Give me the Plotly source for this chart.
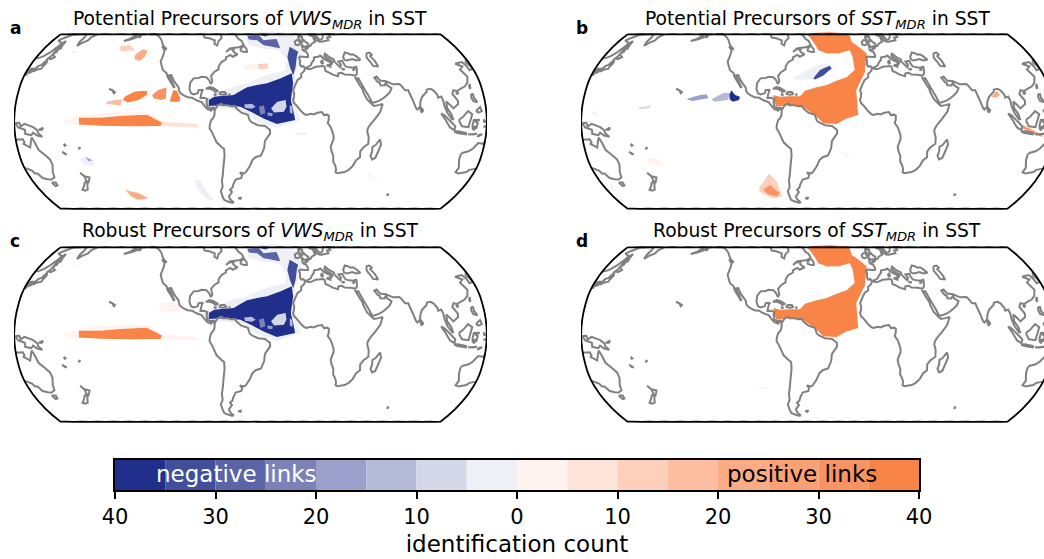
import plotly.graph_objects as go

W, H = 1060, 559
FONT = "DejaVu Sans"

# colour bar values
COUNT_EDGES = [-40, -35, -30, -25, -20, -15, -10, -5, 0, 5, 10, 15, 20, 25, 30, 35, 40]
TICK_VALUES = [-40, -30, -20, -10, 0, 10, 20, 30, 40]
TICK_LABELS = ["40", "30", "20", "10", "0", "10", "20", "30", "40"]
NEG_COLORS = ["#eff0f6", "#d3d7e8", "#b6bad9", "#9aa0c9", "#7a82b8", "#5a64a7", "#404e9c", "#1f2f8b"]
POS_COLORS = ["#fef3ee", "#fee4d8", "#fdd0bc", "#fcbda0", "#fbac84", "#fba074", "#fa9362", "#f98448"]

TITLES = ["Potential Precursors of <i>VWS</i><sub><i>MDR</i></sub> in SST",
          "Potential Precursors of <i>SST</i><sub><i>MDR</i></sub> in SST",
          "Robust Precursors of <i>VWS</i><sub><i>MDR</i></sub> in SST",
          "Robust Precursors of <i>SST</i><sub><i>MDR</i></sub> in SST"]
LETTERS = ["a", "b", "c", "d"]

# map outline
FRAME_WEST, FRAME_EAST = -229.9, 129.9
FRAME_NORTH, FRAME_SOUTH = 59.3, -59.3
FRAME_LON_STEPS = [-225, -210, -195, -180, -165, -150, -135, -120, -105, -90, -75, -60, -45, -30, -15, 0, 15, 30, 45, 60, 75, 90, 105, 120]
FRAME_LAT_STEPS = [50, 40, 30, 20, 10, 0, -10, -20, -30, -40, -50]

# coastlines, as (lon, lat)
AMERICAS_PACIFIC = [(-146,60),(-140,60),(-137,58.5),(-134,57),(-131,55),(-130,54),(-128,52),(-125,49.8),(-123,49),(-124.5,48.4),(-124,46),(-124,43),(-124.3,40.3),(-122.5,37.5),(-120.5,34.5),(-117.2,32.6),(-115.8,30),(-114.2,28.2),(-112,25.8),(-109.9,23),(-109.4,23.2),(-110.4,24.5),(-111.5,26.5),(-113,28.5),(-114.7,31),(-113,31.2),(-111.2,28.5),(-109.5,26.5),(-108,25),(-106,23),(-105.3,20.5),(-104,19),(-101.5,17.6),(-98.5,16.3),(-95,16),(-92.5,14.7),(-90,13.8),(-87.5,13),(-85.7,11),(-84.5,9.8),(-83,8.3),(-81,7.7),(-80,7.3),(-79.5,8.8),(-78,8),(-77.3,7.5),(-77.5,4),(-78.6,2),(-80,0.8),(-80.9,-2),(-81.2,-4.5),(-79.5,-7),(-78,-10),(-76,-14),(-72.5,-17),(-70.4,-18.5),(-70.2,-23),(-71.4,-30),(-72.5,-36),(-73.6,-40),(-73.5,-44),(-75.5,-47),(-74.5,-51),(-73.5,-53),(-71,-54),(-67,-55),(-65.2,-54.8),(-68.2,-52.5),(-69,-50.5),(-66,-47.5),(-67.5,-46),(-65.3,-44.5),(-64.5,-42.5),(-62.2,-39),(-57.5,-38),(-56.8,-36),(-58.5,-34.2),(-55,-34.9),(-53.4,-33.7),(-50.5,-30),(-48.5,-26),(-46,-24),(-41.8,-22.8),(-39.5,-18),(-38.9,-13),(-35,-8),(-35.2,-5.5),(-39,-3),(-44.2,-2.5),(-48.5,-0.8),(-50.5,0.5),(-52,4.5),(-57,6),(-60.5,8.5),(-62,10.5),(-65,10.2),(-68,11),(-71.5,11),(-72,12),(-75,11),(-76.8,8.5),(-78.4,9.4),(-80.5,9),(-83,10),(-83.7,13),(-83.2,15),(-85.8,15.9),(-88.5,15.8),(-88.2,18),(-87.5,20.5),(-86.8,21.4),(-90.3,21),(-90.8,19),(-94,18.2),(-96,19),(-97.5,22),(-97.3,26),(-95,29),(-91,29.3),(-89,30),(-85,29.7),(-82.8,28),(-81,25.2),(-80,26.8),(-81.3,30.7),(-79,33.3),(-75.7,35.2),(-76,37),(-74,40),(-70.5,41.7),(-70.7,43.2),(-67,44.8),(-65,43.6),(-61,45.3),(-63,46),(-65,47.5),(-64.5,49),(-68.5,48.5),(-71,46.8),(-68,49.3),(-60,50.1),(-56,51.7),(-58,54.5),(-61,56),(-64.5,60)]
ALASKA_PENINSULA = [(-149,60),(-151.5,59.3),(-153.5,58.5),(-156,57),(-160,55.5),(-165,54.5),(-161,56),(-158,58),(-157,58.8),(-159,59),(-162,60)]
HUDSON_BAY = [(-94.5,60),(-92.5,57),(-88,56.5),(-82.5,55),(-82.2,52.5),(-79.5,51.3),(-79,54.5),(-76.7,56.5),(-78,59),(-77.5,60)]
NEWFOUNDLAND = [(-59,47.8),(-55.5,46.9),(-53,47),(-53.5,49),(-56,51.3),(-58,49.5),(-59,47.8)]
VANCOUVER = [(-128,50.8),(-125,50),(-123.5,48.5),(-125.5,48.8),(-128,50.8)]
KODIAK = [(-154,57),(-152.5,58),(-152.5,57.3),(-154,57)]
CUBA = [(-84.8,22),(-82,23.2),(-79,22.6),(-75,20.5),(-77.5,19.9),(-78.5,21),(-81.8,22.2),(-84.8,22)]
HISPANIOLA = [(-74.4,18.5),(-73,19.9),(-70,19.8),(-68.5,18.5),(-71,18),(-74.4,18.5)]
JAMAICA = [(-78.3,18.4),(-76.3,18.1),(-77.2,17.8),(-78.3,18.4)]
PUERTO_RICO = [(-67,18.4),(-65.7,18.3),(-66.5,17.9),(-67,18.4)]
HAWAII = [(-160,22),(-157,21),(-155,19.8),(-155.7,19),(-157,20.7),(-160,22)]
FALKLANDS = [(-61,-51.8),(-58,-51.4),(-59,-52.3),(-61,-51.8)]
KERGUELEN = [(68.8,-49.3),(70.5,-49),(70,-49.7),(68.8,-49.3)]
EUROPE_AFRICA_ASIA = [(5,60),(5.5,58.7),(7.5,58),(10.7,59.7),(11,58.8),(12.5,56.3),(13,55.4),(14.5,55.6),(16.5,56.5),(18.5,59.5),(18,60)]
BALTIC_SOUTH = [(10.6,57.7),(10,56),(10.5,55),(12,54.2),(14.3,54),(18.5,54.7),(21,55),(21,57),(24,57.2),(24,58.5),(24,59.3),(28,59.5),(30,60),(25,60),(22,60)]
WESTERN_COAST = [(10.6,57.7),(8.2,57),(8.2,55),(8.5,54),(7,53.5),(4.5,52.5),(3.5,51.4),(1.6,50.8),(0,49.5),(-1.5,49.6),(-1.6,48.7),(-4.7,48.5),(-4.3,47.8),(-2,47),(-1.2,45),(-1.7,43.4),(-4,43.4),(-8,43.7),(-9.3,43),(-8.8,41),(-9.5,38.7),(-8.9,37),(-7,37.2),(-6,36.2),(-5.4,36.1),(-3,36.7),(-0.5,38),(0,39),(3,41.8),(3.2,43),(4.5,43.4),(7,43.6),(9,44.4),(10.5,43),(12.5,41.4),(15.8,40),(16,38.2),(17,39),(17,40.5),(18.5,40),(16,41.5),(14,42.5),(12.4,44.2),(13.5,45.7),(14.5,45),(16,43.5),(19.5,41.8),(19.4,40.3),(22,37.3),(23,36.5),(24,38),(22.8,40.4),(26,40.8),(26.3,39.5),(27.5,37),(30.5,36.4),(33,36.1),(36,36.8),(36,35.5),(34.9,32),(34.3,31.3),(32.5,31),(30,31.4),(25,31.6),(23,32.7),(20.2,32.3),(19.5,30.5),(15.5,31.5),(13,32.9),(10.3,34),(10.3,36.8),(9.5,37.3),(3,36.8),(-2,35.1),(-5.9,35.8),(-6.8,34),(-9.6,32),(-9.8,29.8),(-12.9,27.9),(-14.8,25),(-17,21),(-16.2,19),(-16.6,16),(-17.4,14.7),(-16.6,12.3),(-15,11),(-13.2,9),(-11.5,7),(-9,5),(-7.5,4.4),(-4,5.2),(-2,4.8),(1,5.9),(4.5,6.3),(6,4.3),(8.5,4.6),(9.7,3.8),(9.5,1),(8.8,-1),(11,-3.7),(12,-5.8),(13.3,-9),(13.7,-11.5),(11.8,-17),(13,-20.5),(14.5,-23),(15,-27),(17,-29.5),(18.3,-32),(18.4,-34.1),(20,-34.8),(25.7,-34),(28.5,-32.5),(31,-30),(32.8,-26),(35.5,-24),(35,-20),(37,-17.5),(40.6,-15),(40.4,-10.5),(39,-6.5),(39.5,-4.5),(41.5,-1.7),(45,2),(49,6.5),(51.2,11.8),(48,11),(44.5,10.5),(43.2,11.5),(39.5,15),(37.2,20),(37,22),(35.5,24),(33.7,27.7),(32.6,29.9),(34.5,28),(35,29.5),(37,25),(39,21),(41,17.5),(43.2,12.8),(45,12.8),(49,14),(52.2,15.6),(55,17.5),(57.8,19.5),(59.8,22.5),(56.5,24.5),(56.3,26.2),(54.5,24.2),(51.5,24.3),(51.3,26),(50,26.5),(48,29.5),(50,30.2),(52,27.5),(56.5,27),(61.5,25),(66.5,25.2),(68,23.8),(70,21),(72.5,21),(73,19),(74.5,14.8),(76.5,9),(77.5,8),(79.8,10.3),(80.2,13),(82,16.4),(86.5,20),(87,21.5),(90,22),(92,21),(94.3,18),(94.5,16),(97,16.8),(98,14),(98.5,10),(100.3,5.5),(103.5,1.4),(104.2,1.5),(103,5),(100.2,9),(100.2,13.4),(103,11),(105,8.8),(109,11.7),(109.2,14),(106,18.5),(107.5,21),(110,20.5),(114,22.3),(117,23.5),(120,26),(122,30),(119,34.8),(122.5,37),(118,38.8),(121.5,39.5),(124.5,40),(126,37.5),(126.5,34.5),(129,35.2),(129.5,37),(127.5,39.8),(130,42.3),(133,42.8),(135.5,44),(138.2,46.5),(140.3,50),(141,53),(137.5,54),(135.2,54.7),(137.5,56.5),(142,59),(149,59.7),(153,59.3),(155,59.5),(156,57),(155.7,54),(156.8,51),(158.5,53),(162,55),(162,57),(163.3,58),(165,60)]
BLACK_SEA = [(28,41.2),(31,41.2),(35,42),(38,41),(41.5,41.5),(39,44),(37,45.3),(35,45),(33,46),(30.8,46.5),(28,43.5),(28,41.2)]
CASPIAN = [(49,46),(52,46.5),(53,45),(51,44),(53,40.8),(54,37),(50,37.4),(49,40),(47.5,43),(49,46)]
GREAT_BRITAIN = [(-5.5,50),(1.3,51.2),(1.7,52.7),(0,53.5),(-1.8,55.5),(-2.5,56),(-2,57.6),(-4,57.7),(-3,58.6),(-5,58.6),(-6,56.7),(-4.8,55),(-3,54),(-4.5,53.2),(-4.5,52),(-5.2,51.7),(-3.3,51.3),(-5.5,50)]
IRELAND = [(-6,52),(-6,53.5),(-5.7,54.7),(-8,55.2),(-10,54),(-10,52),(-8,51.6),(-6,52)]
SICILY = [(12.5,38),(15.5,38.2),(15,36.7),(12.5,37.6),(12.5,38)]
SARDINIA = [(8.3,40.8),(9.7,41),(9.5,39.2),(8.5,39),(8.3,40.8)]
CRETE = [(23.6,35.5),(26.2,35.2),(24.8,34.9),(23.6,35.5)]
CYPRUS = [(32.4,35),(34.5,35.6),(33.7,34.9),(32.8,34.6),(32.4,35)]
MADAGASCAR = [(49.3,-12),(50.4,-15.5),(47.5,-24.5),(45.2,-25.5),(43.5,-23),(44.3,-20),(44,-17),(46.3,-15.8),(49.3,-12)]
SRI_LANKA = [(80,9.7),(81.8,7.5),(80.5,6),(79.8,8),(80,9.7)]
SUMATRA = [(95.3,5.5),(98,4),(103.5,-1),(106,-3.2),(105.5,-5.8),(102,-4),(98.5,1),(95.3,5.5)]
JAVA = [(105.2,-6.8),(108.5,-6.6),(114.5,-7.8),(114.5,-8.7),(108,-7.8),(105.2,-6.8)]
FLORES = [(116,-8.5),(119,-8.5),(123,-8.3),(120,-8.8),(116,-8.5)]
TIMOR = [(123.5,-10.3),(127,-8.5),(124.5,-9),(123.5,-10.3)]
BORNEO = [(109,1.5),(111.5,2.8),(116,7),(119,5),(117.5,1),(116,-3.8),(111,-3.2),(109,0),(109,1.5)]
SULAWESI = [(119.5,-5.5),(119,-3),(120,1),(124.5,1.2),(121,0),(123,-1),(122,-4.8),(120.5,-3),(120.5,-5.5),(119.5,-5.5)]
LUZON = [(120.5,18.5),(122,18.4),(122,16),(124,13),(121,13.7),(120,16),(120.5,18.5)]
MINDANAO = [(122,7),(125.5,9.7),(126.5,7),(124,6),(122,7)]
TAIWAN = [(120.2,23),(121.5,25.2),(121,22),(120.2,23)]
HAINAN = [(108.8,19),(110.5,20),(110.5,18.5),(108.8,19)]
HALMAHERA = [(127.5,1.5),(128.5,0),(128,-0.8),(127.5,1.5)]
SERAM = [(128,-3),(129.9,-3.3),(128,-3.5),(128,-3)]
NEW_GUINEA = [(131,-1),(134,-0.8),(135,-3.3),(138,-1.6),(144.5,-3.8),(147.5,-6),(148,-8),(150.8,-10.3),(147,-9.5),(144,-7.5),(142.5,-9.2),(138,-8.3),(138,-5.5),(133,-4),(131,-1)]
NEW_BRITAIN = [(148.5,-5.6),(152,-4.2),(151,-5.5),(148.5,-5.6)]
AUSTRALIA = [(113.5,-22),(115,-21),(119,-20),(122,-18),(125,-14.5),(129,-15),(130.5,-12.3),(135.5,-12),(136.5,-14),(135.5,-15),(140,-17.5),(141.7,-13),(142.5,-10.8),(144.5,-14.5),(146,-19),(150,-22.5),(153,-25.5),(153.5,-29),(151,-34),(150,-37.5),(146.5,-39),(143.5,-38.8),(140,-38),(138,-35),(136,-35),(135,-33),(131,-31.5),(125,-32.5),(123.5,-34),(118,-35),(115,-34.2),(115.7,-31),(113.5,-26),(113.5,-22)]
TASMANIA = [(145,-41),(148.3,-41),(148,-43),(146,-43.5),(145,-41)]
NZ_NORTH = [(172.7,-34.5),(175,-36.8),(178.5,-37.7),(177,-39.5),(175,-41.5),(174.7,-39),(174.8,-37),(172.7,-34.5)]
NZ_SOUTH = [(172.8,-40.5),(174.3,-41.5),(172.8,-43.5),(171,-45.9),(168.3,-46.6),(166.5,-46),(170.5,-43),(172.8,-40.5)]
VANUATU = [(166.5,-15),(167.5,-16),(166.9,-16.2),(166.5,-15)]
NEW_CALEDONIA = [(164,-20.2),(167,-22.2),(165.5,-21.8),(164,-20.2)]
FIJI = [(177.3,-17.5),(178.7,-17.8),(177.5,-18.3),(177.3,-17.5)]
SAKHALIN = [(142,46),(143.5,46.8),(143,49),(144.5,49),(143.2,52),(142.7,54.4),(142,53.5),(141.8,50),(142,46)]
HOKKAIDO = [(140,41.5),(141,42.5),(143.3,42),(145.5,43.4),(144,44.2),(141.8,45.5),(141.5,43.3),(140,41.5)]
HONSHU = [(141,41.4),(142,39.5),(140.9,37),(140.8,35.5),(137,34.6),(135.5,33.6),(135,34.6),(132.5,34.2),(131,34.3),(132.5,35.5),(136,35.7),(137,37.2),(139,38),(140,40),(141,41.4)]
KYUSHU = [(130,33.5),(131.5,33.5),(131.5,31.5),(130.5,31.2),(129.8,32.6),(130,33.5)]
SHIKOKU = [(132.5,33.8),(134.5,34.2),(134.3,33.3),(133,32.8),(132.5,33.8)]
COASTS = [AMERICAS_PACIFIC, ALASKA_PENINSULA, HUDSON_BAY, NEWFOUNDLAND, VANCOUVER, KODIAK, CUBA, HISPANIOLA, JAMAICA,
          PUERTO_RICO, HAWAII, FALKLANDS, KERGUELEN, EUROPE_AFRICA_ASIA, BALTIC_SOUTH, WESTERN_COAST, BLACK_SEA, CASPIAN,
          GREAT_BRITAIN, IRELAND, SICILY, SARDINIA, CRETE, CYPRUS, MADAGASCAR, SRI_LANKA, SUMATRA, JAVA, FLORES, TIMOR,
          BORNEO, SULAWESI, LUZON, MINDANAO, TAIWAN, HAINAN, HALMAHERA, SERAM, NEW_GUINEA, NEW_BRITAIN, AUSTRALIA, TASMANIA,
          NZ_NORTH, NZ_SOUTH, VANUATU, NEW_CALEDONIA, FIJI, SAKHALIN, HOKKAIDO, HONSHU, KYUSHU, SHIKOKU]

# regions, as (lon, lat) outlines
VWS_CLOUD_TROPIC = [(-86,14.5),(-78,19),(-52.6,25.7),(-20,34.6),(-14.3,31),(-15.4,14.5),(-12,1),(-30,-4.6),(-42.4,-1.2),(-57.7,7.7),(-86,8.9)]
VWS_CLOUD_NORTH = [(-55,60),(-9.4,60),(-6,47),(-11,38),(-15.6,31),(-23.5,31),(-20,41.3),(-25.4,48),(-38.4,49),(-51.5,51.5)]
VWS_MAIN = [(-82,14.5),(-78,16.7),(-63,17.8),(-52.6,23),(-37,25.7),(-26,29),(-17,32.4),(-16.6,25.7),(-19,14.5),(-17,5.5),(-16,1),(-30,-1.7),(-40,2),(-47.5,5.5),(-57.7,10),(-68,11),(-82,10.4)]
VWS_HOLE_1 = [(-55,11.5),(-49,12),(-46,10),(-49,8.5),(-54,9)]
VWS_HOLE_2 = [(-34.3,8.9),(-29.5,13.3),(-23,14.5),(-22.5,10),(-24.5,6.6),(-32,6)]
VWS_HOLE_3 = [(-43.6,10),(-39.8,11),(-38.6,5.5),(-42.4,4.4)]
VWS_HOLE_4 = [(-37,6),(-33,5.5),(-33.5,3.5),(-37,4)]
VWS_HOLE_5 = [(-20,11),(-18,10),(-18,5),(-20,6)]
VWS_STREAK = [(-53,58.3),(-42,58.7),(-38,55),(-26,56),(-24,49.5),(-28,50),(-38.3,51.5),(-44,55),(-51.5,55.5)]
VWS_TOP = [(-44,60),(-31,60),(-36,57.8)]
VWS_COLUMN = [(-15.5,50.5),(-9,47),(-11,43.6),(-13.3,36.7),(-16,31),(-18,36.7),(-19,43.6)]
VWS_FIJI = [(-183.7,-25.5),(-178,-23.2),(-172.7,-25.8),(-174,-30),(-182,-28.5)]
VWS_FIJI_CORE = [(-179,-23.8),(-174,-26),(-177,-26.8)]
VWS_SOUTH = [(-95.8,-39.5),(-91.7,-39.5),(-83,-52.7),(-87,-54),(-95.7,-45)]
VWS_GUINEA = [(-16,-7.5),(-7,-7.5),(-7,-9),(-16,-9)]
ENSO_PALE = [(-192,0.5),(-180.6,3.7),(-164,5.5),(-128.6,6.6),(-118.5,1),(-180.6,-2.7),(-192,-0.8)]
ENSO_MAIN = [(-180.6,2.5),(-164,2.6),(-133.7,4.4),(-128.6,4.4),(-117,-0.8),(-118.5,-3),(-164,-2.8),(-180.6,-2)]
ENSO_TAIL = [(-117,0),(-90.6,-1.7),(-89,-4),(-118.5,-3)]
NPAC_BLOB_1 = [(-147,16.7),(-140,20),(-130,20.7),(-130,17.8),(-136,14.5),(-144,12.7),(-148,14.5)]
NPAC_BLOB_2 = [(-126,17.8),(-122,21),(-115.5,23),(-115,15.6),(-119,14.5),(-124.5,15.6)]
NPAC_BLOB_3 = [(-111.7,14.5),(-110,21),(-107,20.7),(-104,15.6),(-104.5,13.3),(-111.7,13.3)]
NPAC_BLOB_4 = [(-160.5,13.3),(-149,15),(-149,11),(-160.5,11.8)]
GOA_PALE = [(-165.5,50.5),(-156.7,51.5),(-150,48),(-161,47)]
GOA_MID = [(-148,45),(-144,48.6),(-139,48),(-139,43.8),(-141.7,40.7),(-147,42)]
NWPAC_PALE = [(-204,47),(-200.7,48),(-200,46)]
SPAC_SPECK = [(-157,-46),(-146.5,-48.4),(-141,-51.8),(-151,-53),(-155,-50.7)]
NATL_PALE = [(-55.5,37.9),(-36.3,39),(-35,35.7),(-54,34.6)]
NATL_MID = [(-44,38.5),(-35.5,39),(-36,35.7),(-43,35)]
SOUTH_INDIAN = [(44.6,-35),(54,-38),(52,-39),(45,-36.5)]
CENTRAL_PALE = [(-121,21),(-106,21),(-103,15.4),(-119,15.4)]

SST_MAIN = [(-84,17.8),(-79,16.7),(-63.5,17),(-59.7,20.7),(-42.8,24.5),(-27,29.7),(-20,34.6),(-20.4,43.6),(-22,48),(-32,45.8),(-42,45.8),(-49.3,48),(-53.8,53.8),(-60,60),(-20,60),(-19,53.8),(-8,45.8),(-11.5,35.7),(-11.7,33.5),(-20,21),(-19,4.4),(-28,2),(-35.4,-1.7),(-45.6,-1.2),(-50.6,3.2),(-61,10),(-73.7,11),(-81.4,10),(-84,14.5)]
SST_NATL_PALE = [(-69,29),(-53.4,36.6),(-42.5,39),(-37,35.7),(-50.7,27.9),(-69,28)]
SST_NATL_CORE = [(-53.3,29),(-48,34.6),(-40,37.5),(-38.5,35.7),(-45.3,31),(-52,28.3)]
SST_PAC_DARK = [(-118,17.8),(-117,21),(-113.6,17.8),(-109.8,16.7),(-110.3,14.5),(-115,13.3),(-117.5,15)]
SST_PAC_MID = [(-151,15),(-140.6,17.8),(-135.5,18.3),(-134,15.6),(-145.8,13.8)]
SST_PAC_LIGHT = [(-131.6,15),(-122.6,19.4),(-117.5,19),(-118.8,14.5),(-129,13.3)]
SST_PAC_FAINT = [(-187,9.3),(-176.8,11),(-179,8.9),(-186.5,8.2)]
SST_PAC_FAR = [(-222,7),(-217,5),(-218,3.5),(-222,5.5)]
SST_SPAC_CLOUD = [(-99,-44),(-89,-35),(-83.5,-40.5),(-81,-50.6),(-90,-51.8),(-100,-47.2)]
SST_SPAC_CORE = [(-96.7,-46),(-89.6,-42.7),(-82.6,-48.4),(-85.8,-50.7),(-93,-49)]
SST_BENGAL = [(84,16.7),(89,20.7),(91,17.8),(88,16)]
SST_JAVA = [(105,-2.4),(108,-3),(114,-5.7),(122,-9),(122,-10.5),(112,-7.4),(106,-4.6)]
SST_FIJI = [(-185,-24.8),(-176,-24),(-172,-29.2),(-182.6,-28)]
SST_SAMOA = [(-195.5,-15.8),(-192,-15.8),(-192,-18),(-195,-18)]
SST_SATL = [(-31.3,-20.3),(-25,-22.5),(-26,-24),(-31,-21.8)]
SST_ROBUST_SPAC = [(-99,-35),(-90,-35.5),(-90,-36.5),(-98,-36.5)]

# each panel paints (outline, signed level) in order
PANEL_A = [(VWS_CLOUD_TROPIC,-1),(VWS_CLOUD_NORTH,-1),(VWS_MAIN,-8),(VWS_HOLE_1,-3),(VWS_HOLE_2,-2),(VWS_HOLE_3,-5),(VWS_HOLE_4,-4),(VWS_HOLE_5,-3),
           (VWS_STREAK,-6),(VWS_TOP,-7),(VWS_COLUMN,-7),(VWS_FIJI,-1),(VWS_FIJI_CORE,-4),(VWS_SOUTH,-1),(VWS_GUINEA,-1),
           (ENSO_PALE,1),(ENSO_MAIN,8),(ENSO_TAIL,2),(NPAC_BLOB_4,4),(NPAC_BLOB_1,8),(NPAC_BLOB_2,7),(NPAC_BLOB_3,8),
           (GOA_PALE,3),(GOA_MID,5),(NWPAC_PALE,2),(SPAC_SPECK,5),(NATL_PALE,1),(NATL_MID,3),(SOUTH_INDIAN,1)]
PANEL_B = [(SST_MAIN,8),(SST_NATL_PALE,-1),(SST_NATL_CORE,-7),(SST_PAC_MID,-4),(SST_PAC_LIGHT,-3),(SST_PAC_DARK,-8),
           (SST_PAC_FAINT,-2),(SST_PAC_FAR,-1),(SST_SPAC_CLOUD,3),(SST_SPAC_CORE,7),(SST_BENGAL,5),(SST_JAVA,6),
           (SST_FIJI,1),(SST_SAMOA,1),(SST_SATL,1)]
PANEL_C = [(VWS_CLOUD_TROPIC,-1),(VWS_CLOUD_NORTH,-1),(VWS_MAIN,-8),(VWS_HOLE_1,-3),(VWS_HOLE_2,-2),(VWS_HOLE_3,-5),(VWS_HOLE_4,-4),(VWS_HOLE_5,-3),
           (VWS_STREAK,-6),(VWS_TOP,-7),(VWS_COLUMN,-7),(ENSO_PALE,1),(ENSO_MAIN,8),(ENSO_TAIL,1),(CENTRAL_PALE,1),(NWPAC_PALE,1)]
PANEL_D = [(SST_MAIN,8),(SST_ROBUST_SPAC,1)]
PANELS = [PANEL_A, PANEL_B, PANEL_C, PANEL_D]

# layout in pixels (left, right, top, bottom)
BOXES = [(14, 487, 20, 223), (581, 1054, 20, 223), (14, 487, 233, 436), (581, 1054, 233, 436)]
TITLE_X = [250, 817, 250, 817]
TITLE_Y = [20, 20, 232, 232]
LETTER_X = [8, 574, 8, 574]
LETTER_Y = [28, 28, 241, 241]
BAR_BOX = (115, 919, 460, 490)

fig = go.Figure()


def level_color(level):
    return NEG_COLORS[-level - 1] if level < 0 else POS_COLORS[level - 1]


def oriented(ring):
    area = sum(a[0] * b[1] - b[0] * a[1] for a, b in zip(ring, ring[1:] + ring[:1]))
    ring = list(reversed(ring)) if area > 0 else list(ring)
    return ring + ring[:1]


def capped(lat):
    return min(lat, FRAME_NORTH)


coast_lon, coast_lat = [], []
for seg in COASTS:
    coast_lon += [p[0] for p in seg] + [None]
    coast_lat += [capped(p[1]) for p in seg] + [None]

frame_lon = ([FRAME_WEST] + FRAME_LON_STEPS + [FRAME_EAST] + [FRAME_EAST] * len(FRAME_LAT_STEPS)
             + [FRAME_EAST] + FRAME_LON_STEPS[::-1] + [FRAME_WEST] + [FRAME_WEST] * len(FRAME_LAT_STEPS) + [FRAME_WEST])
frame_lat = ([FRAME_NORTH] * (len(FRAME_LON_STEPS) + 2) + FRAME_LAT_STEPS
             + [FRAME_SOUTH] * (len(FRAME_LON_STEPS) + 2) + FRAME_LAT_STEPS[::-1] + [FRAME_NORTH])

for i, (panel, box) in enumerate(zip(PANELS, BOXES)):
    name = "geo" if i == 0 else f"geo{i + 1}"
    l, r, t, b = box
    fig.update_layout({name: dict(
        domain=dict(x=[l / W, r / W], y=[1 - b / H, 1 - t / H]),
        projection=dict(type="robinson", rotation=dict(lon=-50, lat=0)),
        lonaxis=dict(range=[-230, 130], showgrid=False), lataxis=dict(range=[-60, 60], showgrid=False),
        showland=False, showocean=False, showlakes=False, showrivers=False, showsubunits=False,
        showcountries=False, showcoastlines=False, showframe=False, bgcolor="rgba(0,0,0,0)",
    )})
    for ring, level in panel:
        pts = oriented(ring)
        fig.add_trace(go.Scattergeo(
            lon=[p[0] for p in pts], lat=[capped(p[1]) for p in pts], mode="lines", fill="toself",
            fillcolor=level_color(level), line=dict(width=0, color=level_color(level)),
            hoverinfo="skip", showlegend=False, geo=name))
    fig.add_trace(go.Scattergeo(lon=coast_lon, lat=coast_lat, mode="lines", line=dict(width=2, color="#808080"),
                                hoverinfo="skip", showlegend=False, geo=name))
    fig.add_trace(go.Scattergeo(lon=frame_lon, lat=frame_lat, mode="lines", line=dict(width=1.8, color="black"),
                                hoverinfo="skip", showlegend=False, geo=name))
    fig.add_annotation(text=TITLES[i], x=TITLE_X[i] / W, y=1 - TITLE_Y[i] / H, xref="paper", yref="paper",
                       showarrow=False, xanchor="center", yanchor="middle", font=dict(family=FONT, size=18.7, color="black"))
    fig.add_annotation(text=f"<b>{LETTERS[i]}</b>", x=LETTER_X[i] / W, y=1 - LETTER_Y[i] / H,
                       xref="paper", yref="paper", showarrow=False, xanchor="left", yanchor="middle",
                       font=dict(family=FONT, size=17, color="black"))

bar_colors = NEG_COLORS[::-1] + POS_COLORS
fig.add_trace(go.Bar(
    x=[b - a for a, b in zip(COUNT_EDGES, COUNT_EDGES[1:])], base=COUNT_EDGES[:-1], y=[0] * 16,
    orientation="h", width=1, marker=dict(color=bar_colors, line=dict(width=0)),
    hoverinfo="skip", showlegend=False))
fig.update_layout(
    width=W, height=H, margin=dict(l=0, r=0, t=0, b=0, autoexpand=False), paper_bgcolor="white", plot_bgcolor="white",
    xaxis=dict(domain=[BAR_BOX[0] / W, BAR_BOX[1] / W], range=[-40, 40], tickvals=TICK_VALUES, ticktext=TICK_LABELS,
               ticks="outside", ticklen=7, tickwidth=1.5, tickcolor="black", linecolor="black", linewidth=1.6,
               mirror=True, showgrid=False, zeroline=False, tickfont=dict(family=FONT, size=21, color="black"),
               title=dict(text="identification count", font=dict(family=FONT, size=23, color="black"), standoff=8)),
    yaxis=dict(domain=[1 - BAR_BOX[3] / H, 1 - BAR_BOX[2] / H], range=[-0.5, 0.5], showticklabels=False,
               ticks="", linecolor="black", linewidth=1.6, mirror=True, showgrid=False, zeroline=False),
)
fig.add_annotation(text="negative links", x=236 / W, y=1 - 474 / H, xref="paper", yref="paper", showarrow=False,
                   xanchor="center", yanchor="middle", font=dict(family=FONT, size=23, color="white"))
fig.add_annotation(text="positive links", x=802 / W, y=1 - 474 / H, xref="paper", yref="paper", showarrow=False,
                   xanchor="center", yanchor="middle", font=dict(family=FONT, size=23, color="black"))
fig.write_html("out.html", config=dict(displayModeBar=False),
               post_script="document.documentElement.style.overflow='hidden';document.body.style.overflow='hidden';document.body.style.margin='0';")
